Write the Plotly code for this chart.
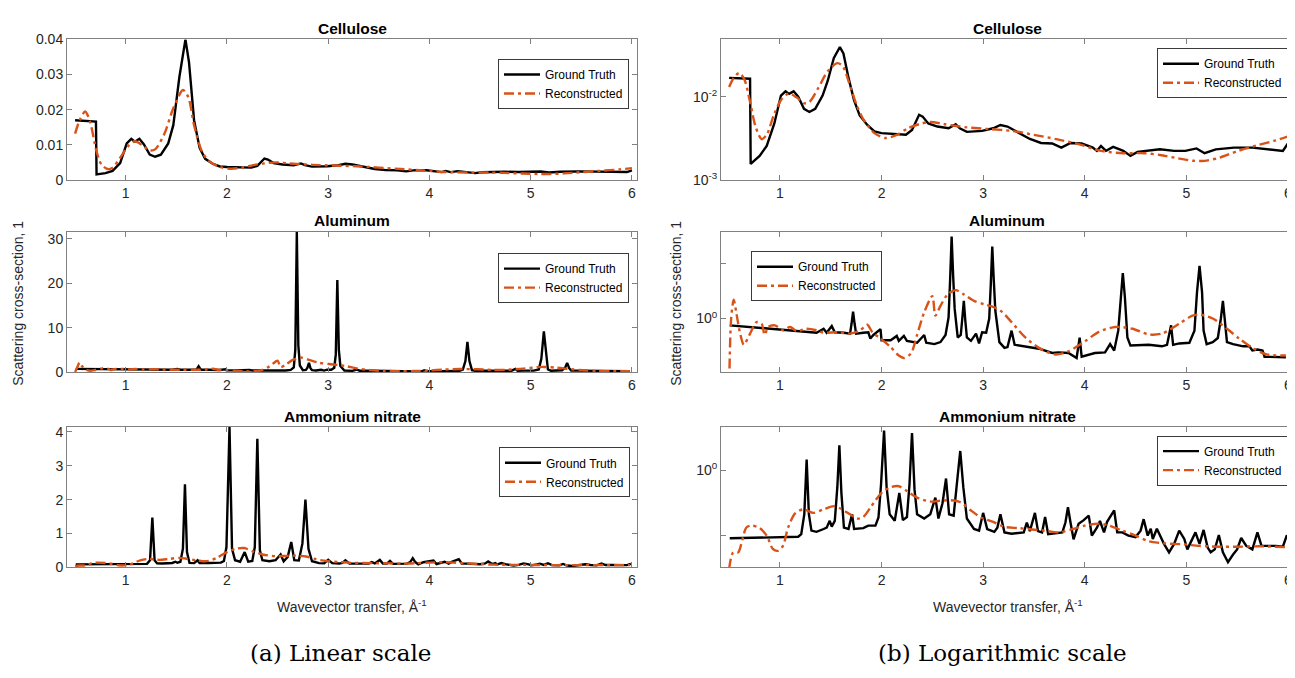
import plotly.graph_objects as go

W, H = 1295, 678
OFF = 8                      # default page body margin
FW, FH = W - OFF, H - 2 * OFF

# ---------------- data (x = wavevector transfer, y = scattering cross-section) ----------------
materials = ["Cellulose", "Aluminum", "Ammonium nitrate"]
series_names = ["Ground Truth", "Reconstructed"]
x_tick_values = [1, 2, 3, 4, 5, 6]

cellulose_gt = [
    (0.5, 0.0170), (0.706, 0.0166), (0.712, 0.00156), (0.80, 0.00195), (0.87, 0.00257),
    (0.945, 0.0048), (1.01, 0.0104), (1.055, 0.0117), (1.09, 0.0109), (1.135, 0.0117),
    (1.18, 0.0101), (1.237, 0.0072), (1.29, 0.0066), (1.347, 0.0072), (1.42, 0.0104),
    (1.47, 0.0156), (1.53, 0.0293), (1.59, 0.0400), (1.625, 0.0335), (1.675, 0.0170),
    (1.73, 0.0091), (1.785, 0.0060), (1.86, 0.0046), (1.93, 0.00384), (2.0, 0.00367),
    (2.11, 0.0036), (2.24, 0.0035), (2.30, 0.0040), (2.33, 0.0048), (2.37, 0.0061),
    (2.405, 0.0058), (2.46, 0.0048), (2.55, 0.0044), (2.66, 0.0042), (2.73, 0.0047),
    (2.77, 0.0042), (2.84, 0.0038), (2.99, 0.0039), (3.10, 0.0042), (3.17, 0.0046),
    (3.24, 0.0044), (3.35, 0.0037), (3.46, 0.00312), (3.57, 0.00279), (3.68, 0.00275),
    (3.77, 0.00245), (3.86, 0.00279), (3.97, 0.00275), (4.08, 0.00245), (4.12, 0.00224),
    (4.16, 0.00256), (4.21, 0.00224), (4.28, 0.0025), (4.38, 0.00224), (4.45, 0.00195),
    (4.52, 0.00218), (4.59, 0.00224), (4.74, 0.00234), (4.88, 0.00224), (4.99, 0.00224),
    (5.10, 0.0024), (5.18, 0.0021), (5.29, 0.00234), (5.47, 0.00245), (5.65, 0.00245),
    (5.84, 0.00234), (5.95, 0.00224), (6.0, 0.00275),
]
cellulose_rec = [
    (0.5, 0.0132), (0.545, 0.0170), (0.6, 0.0195), (0.65, 0.0163), (0.71, 0.0083),
    (0.76, 0.0044), (0.82, 0.0031), (0.87, 0.0035), (0.945, 0.0063), (1.02, 0.0095),
    (1.09, 0.0110), (1.164, 0.0099), (1.237, 0.0084), (1.29, 0.0087), (1.38, 0.0130),
    (1.47, 0.0204), (1.566, 0.0256), (1.62, 0.0234), (1.675, 0.0156), (1.75, 0.0083),
    (1.82, 0.0054), (1.93, 0.00367), (2.04, 0.0032), (2.15, 0.0035), (2.26, 0.0042),
    (2.37, 0.0047), (2.48, 0.0050), (2.62, 0.0047), (2.84, 0.0043), (3.06, 0.0041),
    (3.28, 0.0039), (3.5, 0.0035), (3.72, 0.0031), (3.94, 0.0027), (4.16, 0.00224),
    (4.38, 0.0021), (4.59, 0.0021), (4.74, 0.0020), (4.92, 0.00182), (5.07, 0.0017),
    (5.18, 0.0017), (5.33, 0.00186), (5.51, 0.00224), (5.69, 0.0026), (5.88, 0.0030),
    (6.0, 0.00335),
]
aluminum_gt = [
    (0.506, 0.75), (1.36, 0.55), (1.43, 0.65), (1.46, 0.55), (1.51, 0.73), (1.54, 0.56),
    (1.63, 0.55), (1.69, 0.53), (1.705, 0.8), (1.72, 1.33), (1.735, 0.8), (1.75, 0.53),
    (1.82, 0.55), (1.87, 0.56), (1.89, 0.43), (1.92, 0.50), (1.99, 0.64), (2.0, 0.40),
    (2.09, 0.40), (2.15, 0.48), (2.17, 0.39), (2.22, 0.48), (2.25, 0.39), (2.32, 0.37),
    (2.35, 0.36), (2.42, 0.50), (2.44, 0.36), (2.52, 0.34), (2.58, 0.37), (2.63, 0.50),
    (2.66, 1.05), (2.675, 5.0), (2.69, 31.5), (2.705, 6.0), (2.72, 1.5), (2.75, 0.45),
    (2.78, 0.5), (2.795, 1.0), (2.81, 2.1), (2.825, 0.9), (2.84, 0.45), (2.88, 0.39),
    (2.93, 0.53), (2.96, 0.35), (2.99, 0.56), (3.03, 0.55), (3.06, 1.0), (3.075, 4.0),
    (3.09, 20.7), (3.105, 5.0), (3.12, 1.4), (3.16, 0.37), (3.21, 0.29), (3.24, 0.30),
    (3.28, 0.6), (3.31, 0.33), (3.41, 0.31), (3.55, 0.28), (3.68, 0.234), (3.74, 0.24),
    (3.84, 0.234), (3.92, 0.19), (3.95, 0.445), (3.97, 0.20), (4.1, 0.234), (4.2, 0.24),
    (4.25, 0.34), (4.29, 0.26), (4.33, 0.6), (4.355, 2.5), (4.375, 6.8), (4.395, 2.5),
    (4.42, 0.45), (4.45, 0.32), (4.63, 0.33), (4.76, 0.31), (4.81, 0.33), (4.85, 0.75),
    (4.87, 0.33), (4.93, 0.35), (5.03, 0.36), (5.08, 0.6), (5.105, 3.0), (5.13, 9.2),
    (5.155, 3.0), (5.17, 0.6), (5.20, 0.34), (5.26, 0.37), (5.31, 0.44), (5.34, 1.0),
    (5.36, 2.1), (5.38, 0.9), (5.40, 0.37), (5.46, 0.34), (5.56, 0.31), (5.62, 0.31),
    (5.65, 0.26), (5.70, 0.27), (5.75, 0.26), (5.77, 0.20), (5.88, 0.20), (5.98, 0.195),
]
aluminum_rec = [
    (0.50, 0.05), (0.52, 1.0), (0.545, 2.2), (0.57, 1.3), (0.605, 0.57), (0.645, 0.33),
    (0.70, 0.5), (0.77, 0.86), (0.82, 0.80), (0.85, 0.5), (0.885, 0.7), (0.95, 0.75),
    (1.03, 0.61), (1.10, 0.70), (1.165, 0.59), (1.26, 0.65), (1.36, 0.61), (1.43, 0.55),
    (1.56, 0.56), (1.69, 0.53), (1.79, 0.61), (1.86, 0.77), (1.91, 0.56), (1.99, 0.43),
    (2.09, 0.30), (2.17, 0.21), (2.22, 0.19), (2.29, 0.23), (2.35, 0.5), (2.42, 1.3),
    (2.50, 2.57), (2.53, 1.13), (2.58, 1.7), (2.65, 2.76), (2.73, 3.3), (2.81, 2.76),
    (2.91, 2.1), (3.01, 1.83), (3.11, 1.6), (3.18, 1.35), (3.28, 0.86), (3.41, 0.46),
    (3.55, 0.29), (3.71, 0.22), (3.84, 0.25), (4.0, 0.38), (4.14, 0.57), (4.3, 0.70),
    (4.47, 0.65), (4.63, 0.51), (4.76, 0.53), (4.93, 0.80), (5.06, 1.13), (5.13, 1.18),
    (5.26, 1.0), (5.40, 0.65), (5.52, 0.43), (5.65, 0.29), (5.79, 0.22), (5.98, 0.21),
]
ammonium_gt = [
    (0.506, 0.089), (1.18, 0.094), (1.21, 0.103), (1.24, 0.21), (1.263, 1.47), (1.285, 0.21),
    (1.31, 0.117), (1.36, 0.112), (1.43, 0.124), (1.46, 0.13), (1.49, 0.166), (1.51, 0.135),
    (1.54, 0.166), (1.565, 0.55), (1.585, 2.45), (1.605, 0.45), (1.63, 0.13), (1.675, 0.124),
    (1.71, 0.21), (1.73, 0.124), (1.82, 0.128), (1.87, 0.14), (1.94, 0.14), (1.97, 0.187),
    (1.995, 0.6), (2.025, 4.15), (2.05, 0.55), (2.08, 0.21), (2.13, 0.166), (2.175, 0.45),
    (2.21, 0.17), (2.25, 0.19), (2.275, 0.6), (2.30, 3.8), (2.325, 0.5), (2.35, 0.21),
    (2.42, 0.18), (2.48, 0.21), (2.53, 0.38), (2.56, 0.18), (2.6, 0.31), (2.635, 0.75),
    (2.665, 0.21), (2.71, 0.20), (2.745, 0.7), (2.775, 2.0), (2.805, 0.55), (2.84, 0.18),
    (2.91, 0.124), (2.96, 0.117), (3.0, 0.22), (3.04, 0.124), (3.11, 0.112), (3.14, 0.13),
    (3.17, 0.21), (3.21, 0.11), (3.28, 0.105), (3.40, 0.11), (3.43, 0.156), (3.46, 0.115),
    (3.51, 0.22), (3.54, 0.115), (3.58, 0.11), (3.61, 0.19), (3.64, 0.103), (3.78, 0.11),
    (3.81, 0.156), (3.835, 0.27), (3.86, 0.156), (3.89, 0.086), (3.94, 0.15), (3.99, 0.17),
    (4.04, 0.2), (4.07, 0.098), (4.12, 0.13), (4.15, 0.165), (4.19, 0.11), (4.22, 0.16),
    (4.29, 0.24), (4.32, 0.11), (4.37, 0.11), (4.43, 0.098), (4.5, 0.093), (4.55, 0.117),
    (4.58, 0.176), (4.62, 0.098), (4.65, 0.125), (4.67, 0.087), (4.71, 0.125), (4.75, 0.093),
    (4.78, 0.073), (4.83, 0.054), (4.88, 0.073), (4.93, 0.117), (4.98, 0.087), (5.01, 0.06),
    (5.06, 0.087), (5.09, 0.11), (5.13, 0.073), (5.17, 0.12), (5.21, 0.064), (5.24, 0.054),
    (5.28, 0.06), (5.32, 0.10), (5.36, 0.054), (5.41, 0.038), (5.46, 0.05), (5.5, 0.06),
    (5.54, 0.09), (5.59, 0.068), (5.65, 0.06), (5.70, 0.11), (5.74, 0.068), (5.79, 0.068),
    (5.88, 0.068), (5.95, 0.066), (5.99, 0.10),
]
ammonium_rec = [
    (0.5, 0.03), (0.54, 0.054), (0.59, 0.054), (0.62, 0.073), (0.67, 0.131), (0.72, 0.14),
    (0.80, 0.128), (0.87, 0.098), (0.93, 0.061), (0.98, 0.057), (1.03, 0.068), (1.08, 0.13),
    (1.15, 0.216), (1.23, 0.25), (1.33, 0.22), (1.43, 0.25), (1.53, 0.28), (1.59, 0.26),
    (1.69, 0.21), (1.76, 0.18), (1.82, 0.19), (1.9, 0.28), (2.0, 0.45), (2.09, 0.55),
    (2.17, 0.57), (2.25, 0.48), (2.35, 0.38), (2.48, 0.33), (2.58, 0.34), (2.68, 0.345),
    (2.78, 0.32), (2.88, 0.24), (2.98, 0.187), (3.11, 0.157), (3.21, 0.134), (3.35, 0.128),
    (3.48, 0.122), (3.61, 0.117), (3.74, 0.11), (3.87, 0.122), (4.0, 0.14), (4.14, 0.15),
    (4.24, 0.14), (4.37, 0.117), (4.5, 0.098), (4.63, 0.08), (4.80, 0.074), (4.96, 0.072),
    (5.13, 0.068), (5.32, 0.066), (5.52, 0.066), (5.72, 0.067), (5.98, 0.065),
]

# axis tick definitions
lin_y_ticks = [[0, 0.01, 0.02, 0.03, 0.04], [0, 10, 20, 30], [0, 1, 2, 3, 4]]
lin_y_text = [["0", "0.01", "0.02", "0.03", "0.04"], ["0", "10", "20", "30"], ["0", "1", "2", "3", "4"]]
log_y_ticks = [[0.001, 0.01], [1, 10], [0.1, 1]]
log_y_text = [["10<sup>-3</sup>", "10<sup>-2</sup>"], ["10<sup>0</sup>", ""], ["", "10<sup>0</sup>"]]

# ---------------- layout geometry (page pixels) ----------------
row_px = [(32, 176), (229, 373), (429, 573)]
col_px = [(67, 637), (721, 1293)]
lin_ranges = [[0, 0.04], [0, 31.6], [0, 4.15]]
log_ranges = [[-3, -1.306], [-0.982, 1.589], [-1.5, 0.675]]
x_range = [0.42, 6.05]
legend_pos = {  # (x px, y px top, anchor)
    (0, 0): (629, 52, "right"), (0, 1): (1288, 41, "right"),
    (1, 0): (629, 251, "right"), (1, 1): (751, 249, "left"),
    (2, 0): (630, 450, "right"), (2, 1): (1288, 438, "right"),
}

def pxx(v):
    return (v - OFF) / FW

def pxy(v):
    return 1 - (v - OFF) / FH

GT_COLOR = "black"
REC_COLOR = "#D95319"
AX_COLOR = "#808080"
TXT_COLOR = "#262626"
FONT = "Liberation Sans"

data_sets = [(cellulose_gt, cellulose_rec), (aluminum_gt, aluminum_rec), (ammonium_gt, ammonium_rec)]

fig = go.Figure()
layout = dict(
    width=FW, height=FH, autosize=False,
    margin=dict(l=0, r=0, t=0, b=0),
    paper_bgcolor="white", plot_bgcolor="white",
    showlegend=True,
    annotations=[],
)

for r in range(3):
    gt, rec = data_sets[r]
    gx, gy = [p[0] for p in gt], [p[1] for p in gt]
    rx, ry = [p[0] for p in rec], [p[1] for p in rec]
    for c in range(2):
        idx = 2 * r + c + 1
        sfx = "" if idx == 1 else str(idx)
        legname = "legend" + sfx
        fig.add_trace(go.Scatter(
            x=gx, y=gy, mode="lines", name=series_names[0],
            line=dict(color=GT_COLOR, width=2.4),
            xaxis="x" + sfx, yaxis="y" + sfx, legend=legname,
        ))
        fig.add_trace(go.Scatter(
            x=rx, y=ry, mode="lines", name=series_names[1],
            line=dict(color=REC_COLOR, width=2.4, dash="10px,4px,3px,4px",
                      shape="spline", smoothing=0.8),
            xaxis="x" + sfx, yaxis="y" + sfx, legend=legname,
        ))
        x0, x1 = col_px[c]
        y0, y1 = row_px[r]
        layout["xaxis" + sfx] = dict(
            domain=[pxx(x0), min(1.0, pxx(x1))], range=x_range, anchor="y" + sfx,
            tickvals=x_tick_values, ticks="inside", ticklen=5, tickcolor=AX_COLOR,
            showline=True, linecolor=AX_COLOR, linewidth=1, mirror="ticks",
            showgrid=False, zeroline=False,
            tickfont=dict(family=FONT, size=14, color=TXT_COLOR),
        )
        ydict = dict(
            domain=[pxy(y1), pxy(y0)], anchor="x" + sfx,
            ticks="inside", ticklen=5, tickcolor=AX_COLOR,
            showline=True, linecolor=AX_COLOR, linewidth=1, mirror="ticks",
            showgrid=False, zeroline=False,
            tickfont=dict(family=FONT, size=14, color=TXT_COLOR),
        )
        if c == 0:
            ydict.update(range=lin_ranges[r], tickvals=lin_y_ticks[r], ticktext=lin_y_text[r])
        else:
            ydict.update(type="log", range=log_ranges[r], tickvals=log_y_ticks[r], ticktext=log_y_text[r])
        layout["yaxis" + sfx] = ydict

        lx, ly, anc = legend_pos[(r, c)]
        layout[legname] = dict(
            x=pxx(lx), y=pxy(ly), xanchor=anc, yanchor="top",
            xref="paper", yref="paper",
            bgcolor="white", bordercolor="#3a3a3a", borderwidth=1,
            font=dict(family=FONT, size=12, color="black"),
            tracegroupgap=0, traceorder="normal", itemwidth=36,
        )
        # subplot title
        layout["annotations"].append(dict(
            text="<b>%s</b>" % materials[r], x=pxx((x0 + x1) / 2), y=pxy(y0 - 11),
            xref="paper", yref="paper", showarrow=False, xanchor="center", yanchor="middle",
            font=dict(family=FONT, size=15.5, color="black"),
        ))

# axis titles
for cx in [352, 1008]:
    layout["annotations"].append(dict(
        text="Wavevector transfer, Å<sup>-1</sup>", x=pxx(cx), y=pxy(613),
        xref="paper", yref="paper", showarrow=False, xanchor="center", yanchor="middle",
        font=dict(family=FONT, size=14, color=TXT_COLOR),
    ))
for lx in [18, 676]:
    layout["annotations"].append(dict(
        text="Scattering cross-section, 1", x=pxx(lx), y=pxy(303), textangle=-90,
        xref="paper", yref="paper", showarrow=False, xanchor="center", yanchor="middle",
        font=dict(family=FONT, size=14, color=TXT_COLOR),
    ))
# captions
for cx, txt in [(340, "(a) Linear scale"), (1002, "(b) Logarithmic scale")]:
    layout["annotations"].append(dict(
        text=txt, x=pxx(cx), y=pxy(661),
        xref="paper", yref="paper", showarrow=False, xanchor="center", yanchor="middle",
        font=dict(family="DejaVu Serif", size=23, color="black"),
    ))

fig.update_layout(**layout)
fig.write_html("out.html")
